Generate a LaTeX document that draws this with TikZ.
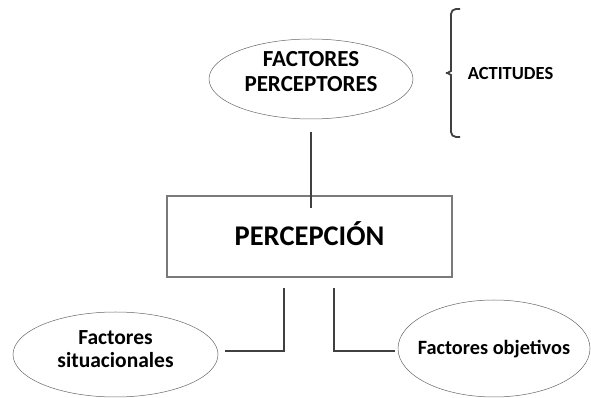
\documentclass[tikz,border=0pt]{standalone}
\usepackage{fontspec}
\setmainfont{Carlito}
\usepackage{tikz}
\usetikzlibrary{shapes.geometric}

\definecolor{linegray}{HTML}{404040}
\definecolor{boxgray}{HTML}{7A7A7A}

\begin{document}
\begin{tikzpicture}[x=1pt, y=1pt,
  factor/.style={ellipse, draw=gray!80!black, line width=0.5pt, inner sep=0pt},
  factortext/.style 2 args={align=center, font=\fontsize{#1}{#2}\selectfont\bfseries},
  conn/.style={draw=linegray, line width=2pt}]
\useasboundingbox (0,0) rectangle (591,398);

% Central concept
\node[draw=boxgray, line width=1.3pt, minimum width=285pt, minimum height=81pt, text height=18pt, text depth=0pt, font=\fontsize{28.5}{31}\selectfont\bfseries] (perc) at (309.5,161.5) {PERCEPCIÓN};

% Upper factor and its brace
\node[factor, minimum width=204pt, minimum height=80pt,
  label={[factortext={23}{25}, yshift=7pt]center:FACTORES\\PERCEPTORES}] (fp) at (311,319) {};
\node[font=\fontsize{18.5}{21}\selectfont\bfseries, text height=12pt, text depth=0pt] (act) at (510.5,324.5) {ACTITUDES};
\draw[linegray, line width=1.8pt, rounded corners=5pt] (460,389) -- (451,389) -- (451,332)
  .. controls (451,327) and (447,325) .. (443,325)
  .. controls (447,325) and (451,323) .. (451,318) -- (451,261) -- (460,261);

% Lower factors
\node[factor, minimum width=205pt, minimum height=85pt,
  label={[factortext={21.5}{23}, yshift=5pt]center:Factores\\situacionales}] (fs) at (115.5,43.5) {};
\node[factor, minimum width=192pt, minimum height=97pt,
  label={[factortext={20.3}{22}, yshift=-1pt]center:Factores objetivos}] (fo) at (494,49.5) {};

% Connectors
\draw[conn] ([yshift=-13pt]fp.south) -- ([yshift=-13pt]fp.south |- perc.north);
\draw[conn] ([xshift=-25.5pt,yshift=-10pt]perc.south) |- ([xshift=7pt,yshift=3.5pt]fs.east);
\draw[conn] ([xshift=24.5pt,yshift=-10pt]perc.south) |- ([xshift=-3pt,yshift=-2.5pt]fo.west);
\end{tikzpicture}
\end{document}
